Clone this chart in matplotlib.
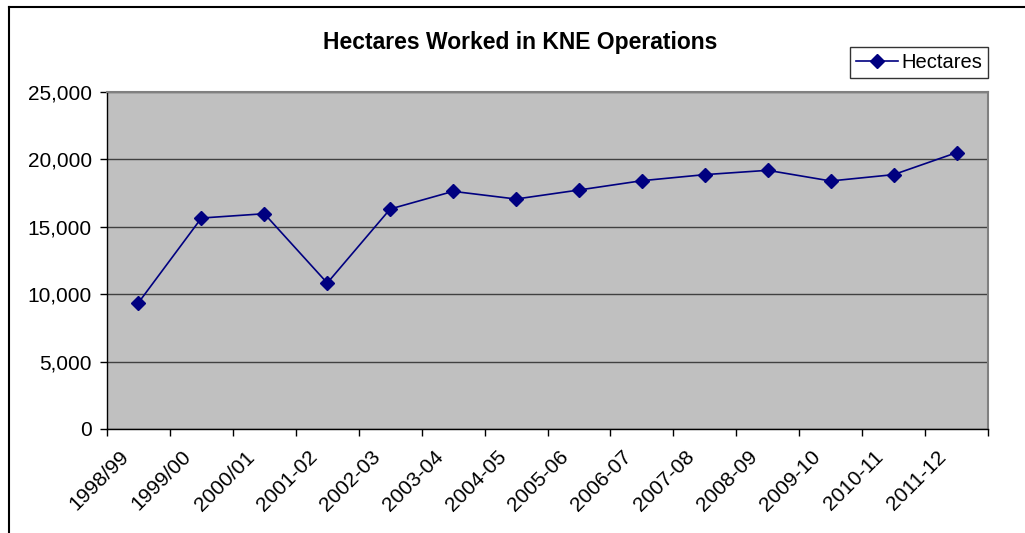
import matplotlib
matplotlib.use('Agg')
import matplotlib.pyplot as plt
from matplotlib.lines import Line2D
from matplotlib.transforms import ScaledTranslation

seasons = ['1998/99', '1999/00', '2000/01', '2001-02', '2002-03', '2003-04', '2004-05',
           '2005-06', '2006-07', '2007-08', '2008-09', '2009-10', '2010-11', '2011-12']
hectares = [9370, 15650, 15970, 10830, 16320, 17630, 17060,
            17730, 18420, 18870, 19190, 18400, 18870, 20500]
y_ticks = [0, 5000, 10000, 15000, 20000, 25000]

plt.rcParams['font.family'] = ['Liberation Sans', 'DejaVu Sans']

W, H = 1025, 533
fig = plt.figure(figsize=(W / 100, H / 100), dpi=100)
ax = fig.add_axes([107 / W, 1 - 429 / H, (988 - 107) / W, (429 - 92) / H])
ax.set_facecolor('#C0C0C0')

x = [i + 0.5 for i in range(len(seasons))]
ax.plot(x, hectares, color='#000080', linewidth=1.2, marker='D', markersize=6.8,
        label='Hectares')

ax.set_xlim(0, len(seasons))
ax.set_ylim(0, 25000)
ax.set_yticks(y_ticks)
ax.set_yticklabels([f'{v:,}' for v in y_ticks], fontsize=15)
ax.yaxis.grid(True, color='#404040', linewidth=1)
ax.set_axisbelow(True)

ax.set_xticks(range(len(seasons) + 1))
ax.set_xticklabels([])
ax.set_xticks(x, minor=True)
ax.set_xticklabels(seasons, minor=True, rotation=45, ha='right', va='center',
                   rotation_mode='anchor', fontsize=15)
ax.tick_params(axis='x', which='minor', length=0, pad=18)
ax.tick_params(axis='x', which='major', length=5, width=1, color='#000000')
ax.tick_params(axis='y', length=5, width=1, color='#000000', pad=6)

# Excel puts the rotated labels a bit left of the category centre
shift = ScaledTranslation(-13 / 100, 0, fig.dpi_scale_trans)
for lbl in ax.get_xticklabels(minor=True):
    lbl.set_transform(lbl.get_transform() + shift)

for s in ['left', 'bottom']:
    ax.spines[s].set_color('#000000')
    ax.spines[s].set_linewidth(1)
for s in ['top', 'right']:
    ax.spines[s].set_color('#808080')
    ax.spines[s].set_linewidth(1.5)

fig.text(520 / W, 1 - 42 / H, 'Hectares Worked in KNE Operations', ha='center',
         va='center', fontsize=16.5, fontweight='bold')

leg = fig.legend(loc='upper right', bbox_to_anchor=(988 / W, 1 - 47 / H),
                 fontsize=14.5, frameon=True, fancybox=False, edgecolor='#000000',
                 borderpad=0.3, handlelength=2.1, handletextpad=0.15, borderaxespad=0)
leg.get_frame().set_linewidth(1)

# cropped chart-area border
fig.add_artist(Line2D([9 / W, 9 / W], [0, 1 - 7 / H], color='black', linewidth=1.5,
                      transform=fig.transFigure))
fig.add_artist(Line2D([9 / W, 1], [1 - 7 / H, 1 - 7 / H], color='black', linewidth=1.5,
                      transform=fig.transFigure))

fig.savefig('out.png', dpi=100)
